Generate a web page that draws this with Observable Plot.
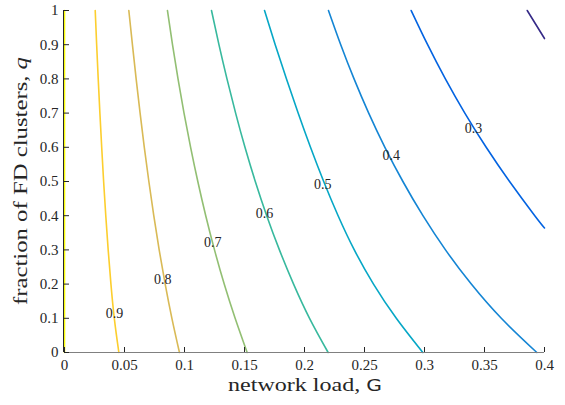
<!DOCTYPE html>
<html>
<head>
<meta charset="utf-8">
<script src="https://cdn.jsdelivr.net/npm/d3@7"></script>
<script src="https://cdn.jsdelivr.net/npm/@observablehq/plot@0.6"></script>
<style>
  html, body { margin: 0; padding: 0; background: #fff; }
  #chart { width: 565px; height: 405px; }
  #chart svg text { font-family: "Liberation Serif", "Times New Roman", serif; }
  #chart svg text tspan.sans { font-family: "DejaVu Sans", sans-serif; }
</style>
</head>
<body>
<div id="chart"></div>
<script>
// fraction of FD clusters q sampled for each contour
const qGrid = [1, 0.9, 0.8, 0.7, 0.6, 0.5, 0.4, 0.3, 0.2, 0.1, 0];
// network load x along each contour level
const lvl09 = [0.0256, 0.0268, 0.0281, 0.0295, 0.0310, 0.0326, 0.0344, 0.0364, 0.0387, 0.0415, 0.0453];
const lvl08 = [0.0536, 0.0566, 0.0597, 0.0630, 0.0665, 0.0703, 0.0744, 0.0789, 0.0839, 0.0895, 0.0958];
const lvl07 = [0.0858, 0.0900, 0.0946, 0.0996, 0.1051, 0.1111, 0.1177, 0.1250, 0.1331, 0.1422, 0.1522];
const lvl06 = [0.1225, 0.1287, 0.1354, 0.1426, 0.1504, 0.1590, 0.1685, 0.1791, 0.1909, 0.2042, 0.2197];
const lvl05 = [0.1667, 0.1756, 0.1850, 0.1947, 0.2050, 0.2160, 0.2280, 0.2415, 0.2575, 0.2765, 0.2986];
const lvl04 = [0.2200, 0.2302, 0.2413, 0.2535, 0.2670, 0.2820, 0.2987, 0.3175, 0.3390, 0.3640, 0.3936];
const q03 = [1, 0.9, 0.8, 0.7, 0.6, 0.5, 0.4, 0.364];
const lvl03 = [0.2889, 0.3026, 0.3174, 0.3336, 0.3514, 0.3709, 0.3919, 0.4000];
const q02 = [1, 0.918];
const lvl02 = [0.3856, 0.4000];
const q10 = [1, 0];
const lvl10 = [0, 0];

const levels = [1.0, 0.9, 0.8, 0.7, 0.6, 0.5, 0.4, 0.3, 0.2];
const levelColors = ["#f9fb0e", "#fcce2e", "#d9ba56", "#92bf73", "#38b99e", "#06a7c6", "#1485d4", "#0363e1", "#352a87"];

// contour labels (text, x, q)
const labelText = ["0.9", "0.8", "0.7", "0.6", "0.5", "0.4", "0.3"];
const labelX = [0.0417, 0.0819, 0.1236, 0.1667, 0.2153, 0.2722, 0.3408];
const labelQ = [0.114, 0.2125, 0.3216, 0.407, 0.492, 0.577, 0.655];

const xTicks = [0, 0.05, 0.1, 0.15, 0.2, 0.25, 0.3, 0.35, 0.4];
const yTicks = [0, 0.1, 0.2, 0.3, 0.4, 0.5, 0.6, 0.7, 0.8, 0.9, 1];

const series = [
  [1.0, q10, lvl10], [0.9, qGrid, lvl09], [0.8, qGrid, lvl08], [0.7, qGrid, lvl07],
  [0.6, qGrid, lvl06], [0.5, qGrid, lvl05], [0.4, qGrid, lvl04], [0.3, q03, lvl03], [0.2, q02, lvl02]
];
const rows = series.flatMap(([level, qs, xs]) => xs.map((x, i) => ({level, x, q: qs[i]})));
const labels = labelText.map((t, i) => ({t, x: labelX[i], q: labelQ[i]}));

const plot = Plot.plot({
  width: 565,
  height: 405,
  marginLeft: 64,
  marginRight: 21,
  marginTop: 10,
  marginBottom: 53,
  style: {background: "white"},
  x: {domain: [0, 0.4]},
  y: {domain: [0, 1]},
  color: {type: "ordinal", domain: levels, range: levelColors},
  marks: [
    Plot.line(rows, {x: "x", y: "q", z: "level", stroke: "level", strokeWidth: 1.6, curve: "natural"}),
    Plot.ruleY([0], {stroke: "#808080", strokeWidth: 1.2}),
    Plot.ruleX([0], {stroke: "#262626", strokeWidth: 1, dx: -1}),
    Plot.axisX({ticks: xTicks, tickSize: -5, tickPadding: 12, tickFormat: d => String(+d.toFixed(2)),
      fontSize: 15, color: "#262626", label: null, stroke: "#262626"}),
    Plot.axisY({ticks: yTicks, tickSize: -5, tickPadding: 11, tickFormat: d => String(+d.toFixed(1)),
      fontSize: 15, color: "#262626", label: null, stroke: "#262626"}),
    Plot.text(labels, {x: "x", y: "q", text: "t", fontSize: 14, fill: "#262626"})
  ]
});

const svg = d3.select(plot);
const xl = svg.append("text")
  .attr("x", 305).attr("y", 391)
  .attr("text-anchor", "middle")
  .attr("textLength", 154).attr("lengthAdjust", "spacingAndGlyphs")
  .attr("font-size", 19).attr("fill", "#262626");
xl.append("tspan").text("network load, ");
xl.append("tspan").attr("class", "sans").attr("font-size", 16).text("G");

const yl = svg.append("text")
  .attr("transform", "translate(27,181) rotate(-90)")
  .attr("text-anchor", "middle")
  .attr("textLength", 248).attr("lengthAdjust", "spacingAndGlyphs")
  .attr("font-size", 19).attr("fill", "#262626");
yl.append("tspan").text("fraction of FD clusters, ");
yl.append("tspan").attr("font-style", "italic").text("q");

document.getElementById("chart").appendChild(plot);
</script>
</body>
</html>
